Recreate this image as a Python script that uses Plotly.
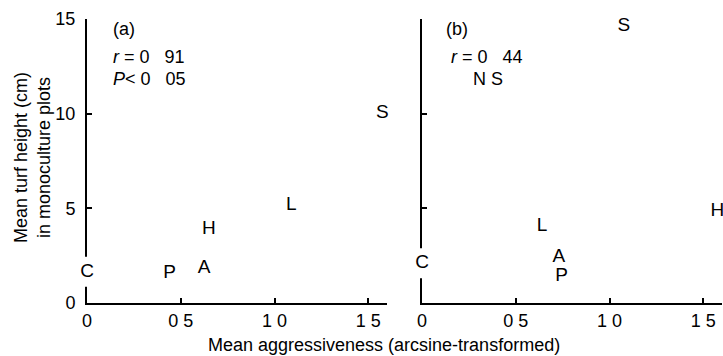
import plotly.graph_objects as go

# ---- data ----
labels_a = ["C", "P", "A", "H", "L", "S"]
aggr_a = [0.0, 0.44, 0.625, 0.65, 1.09, 1.575]
height_a = [1.65, 1.58, 1.85, 3.9, 5.18, 10.0]

labels_b = ["C", "P", "A", "L", "H", "S"]
aggr_b = [0.0, 0.745, 0.73, 0.64, 1.575, 1.077]
height_b = [2.1, 1.4, 2.4, 4.07, 4.87, 14.6]

x_tickvals = [0, 0.5, 1.0, 1.5]
x_ticktext = ["0", "0 5", "1 0", "1 5"]
y_tickvals = [0, 5, 10, 15]
y_ticktext = ["0", "5", "10", "15"]

FONT = "Liberation Sans, Arial, Helvetica, sans-serif"
W, H = 723, 356

fig = go.Figure()

for labels, xs, ys, xa, ya in [(labels_a, aggr_a, height_a, "x", "y"),
                               (labels_b, aggr_b, height_b, "x2", "y2")]:
    fig.add_trace(go.Scatter(
        x=xs, y=ys, text=labels, mode="markers+text",
        textposition="middle center",
        marker=dict(symbol="square", size=30, color="white", line=dict(width=0)),
        textfont=dict(family=FONT, size=19, color="black"),
        cliponaxis=False, showlegend=False, hoverinfo="skip",
        xaxis=xa, yaxis=ya,
    ))

def px_x(p):
    return p / W

def px_y(p):
    return (H - p) / H

xdom_a = [px_x(87), px_x(387)]
xdom_b = [px_x(422), px_x(722)]
ydom = [px_y(303), px_y(19)]

common_x = dict(range=[0, 1.6], showline=True, linecolor="black", linewidth=2,
                ticks="inside", ticklen=5, tickwidth=2, tickcolor="black",
                tickvals=x_tickvals, ticktext=x_ticktext, showgrid=False,
                zeroline=False, layer="below traces", automargin=False,
                tickfont=dict(family=FONT, size=18, color="black"))
common_y = dict(range=[0, 15], showline=True, linecolor="black", linewidth=2,
                ticks="inside", ticklen=5, tickwidth=2, tickcolor="black",
                tickvals=y_tickvals, showgrid=False, zeroline=False,
                layer="below traces", automargin=False,
                tickfont=dict(family=FONT, size=18, color="black"))

fig.update_layout(
    width=W, height=H, margin=dict(l=0, r=0, t=0, b=0, autoexpand=False),
    paper_bgcolor="white", plot_bgcolor="white",
    xaxis=dict(domain=xdom_a, anchor="y", **common_x),
    yaxis=dict(domain=ydom, anchor="x", ticktext=y_ticktext, ticklabelstandoff=6, **common_y),
    xaxis2=dict(domain=xdom_b, anchor="y2", **common_x),
    yaxis2=dict(domain=ydom, anchor="x2", showticklabels=False, **common_y),
)

nb = "\u00a0"
ann = [
    dict(text="(a)", x=px_x(111), y=px_y(29), xanchor="left"),
    dict(text=f"<i>r</i>{nb}={nb}0{nb}{nb}{nb}91", x=px_x(111), y=px_y(57), xanchor="left"),
    dict(text=f"<i>P</i><{nb}0{nb}{nb}{nb}05", x=px_x(111), y=px_y(79), xanchor="left"),
    dict(text="(b)", x=px_x(444), y=px_y(29), xanchor="left"),
    dict(text=f"<i>r</i>{nb}={nb}0{nb}{nb}{nb}44", x=px_x(449), y=px_y(57), xanchor="left"),
    dict(text=f"N{nb}S", x=px_x(471), y=px_y(79), xanchor="left"),
    dict(text="Mean aggressiveness (arcsine-transformed)", x=px_x(384), y=px_y(345)),
    dict(text="Mean turf height (cm)<br>in monoculture plots", x=px_x(32), y=px_y(158),
         textangle=-90),
]
for a in ann:
    a.update(xref="paper", yref="paper", showarrow=False,
             yanchor="middle", font=dict(family=FONT, size=18, color="black"))
    a.setdefault("xanchor", "center")
    fig.add_annotation(**a)

fig.write_html(
    "out.html",
    config={"displayModeBar": False, "staticPlot": True},
    post_script="document.body.style.margin='0';document.body.style.overflow='hidden';",
)
